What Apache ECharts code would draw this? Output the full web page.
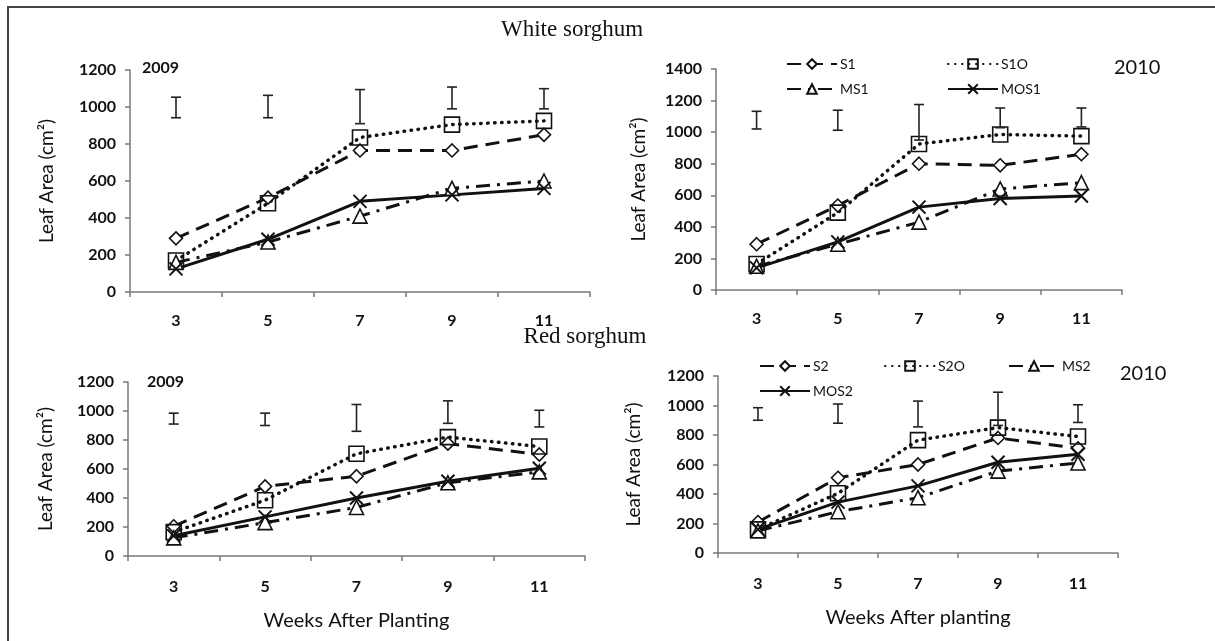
<!DOCTYPE html>
<html>
<head>
<meta charset="utf-8">
<script src="https://cdn.jsdelivr.net/npm/echarts@6/dist/echarts.min.js"></script>
<style>
html,body{margin:0;padding:0;background:#fff;}
#chart{width:1215px;height:641px;}
</style>
</head>
<body>
<div id="chart"></div>
<script>
// ---------- data ----------
const categories = ['3', '5', '7', '9', '11'];
const yTicksTop1 = [0, 1200, 200];   // min, max, interval (White 2009)
const yTicksTop2 = [0, 1400, 200];   // White 2010
const yTicksBot = [0, 1200, 200];    // Red sorghum

// White sorghum 2009
const w09_S1 = [290, 510, 765, 765, 850];
const w09_S1O = [170, 480, 835, 905, 925];
const w09_MS1 = [160, 270, 410, 560, 600];
const w09_MOS1 = [125, 285, 490, 525, 560];
const w09_errLow = [942, 942, 910, 990, 990];
const w09_errHigh = [1053, 1063, 1094, 1108, 1099];

// White sorghum 2010
const w10_S1 = [290, 535, 800, 790, 860];
const w10_S1O = [165, 490, 925, 985, 975];
const w10_MS1 = [150, 290, 430, 640, 680];
const w10_MOS1 = [140, 305, 525, 580, 595];
const w10_errLow = [1020, 1012, 950, 1028, 1033];
const w10_errHigh = [1132, 1139, 1175, 1153, 1153];

// Red sorghum 2009
const r09_S2 = [205, 480, 550, 775, 700];
const r09_S2O = [165, 385, 705, 820, 755];
const r09_MS2 = [125, 230, 335, 505, 580];
const r09_MOS2 = [140, 270, 400, 515, 605];
const r09_errLow = [910, 900, 860, 915, 890];
const r09_errHigh = [985, 985, 1045, 1070, 1005];

// Red sorghum 2010
const r10_S2 = [210, 510, 600, 780, 710];
const r10_S2O = [160, 405, 765, 850, 790];
const r10_MS2 = [150, 280, 375, 555, 610];
const r10_MOS2 = [160, 345, 455, 615, 670];
const r10_errLow = [900, 880, 855, 865, 885];
const r10_errHigh = [985, 1010, 1030, 1090, 1005];

// ---------- styles ----------
const INK = '#111';
const AX = '#7a7a7a';
const SANS = 'Lato';
const XSYM = 'path://M0 0L10 10M10 0L0 10';

const roles = {
  S:   { symbol: 'diamond',  size: 13, line: [14, 8],        fill: '#fff' },
  SO:  { symbol: 'rect',     size: 15, line: [0.5, 6.5],     fill: 'transparent' },
  MS:  { symbol: 'triangle', size: 14, line: [14, 7, 3, 7],  fill: '#fff' },
  MOS: { symbol: XSYM,       size: 13, line: 'solid',        fill: 'transparent' }
};

function lineSeries(name, role, data, gi) {
  const r = roles[role];
  return {
    type: 'line', name: name, data: data,
    xAxisIndex: gi, yAxisIndex: gi,
    symbol: r.symbol, symbolSize: r.size, showAllSymbol: true,
    lineStyle: { color: INK, width: role === 'SO' ? 3.5 : 3, type: r.line, cap: role === 'SO' ? 'round' : 'butt' },
    itemStyle: { color: r.fill, borderColor: INK, borderWidth: role === 'MOS' ? 2 : 1.6 },
    emphasis: { disabled: true },
    animation: false, clip: false, z: 3
  };
}

function errSeries(lo, hi, gi) {
  return {
    type: 'custom', name: 'err' + gi,
    xAxisIndex: gi, yAxisIndex: gi,
    data: categories.map((c, i) => [i, lo[i], hi[i]]),
    encode: { x: 0, y: [1, 2] },
    renderItem: function (params, api) {
      const x = api.value(0);
      const a = api.coord([x, api.value(1)]);
      const b = api.coord([x, api.value(2)]);
      const w = 5;
      const st = { stroke: '#222', lineWidth: 1.6 };
      return {
        type: 'group',
        children: [
          { type: 'line', shape: { x1: a[0], y1: a[1], x2: b[0], y2: b[1] }, style: st },
          { type: 'line', shape: { x1: a[0] - w, y1: a[1], x2: a[0] + w, y2: a[1] }, style: st },
          { type: 'line', shape: { x1: b[0] - w, y1: b[1], x2: b[0] + w, y2: b[1] }, style: st }
        ]
      };
    },
    animation: false, z: 4, silent: true
  };
}

const grids = [
  { left: 130, top: 70, width: 460, height: 222 },
  { left: 716, top: 69, width: 406, height: 221 },
  { left: 128, top: 382, width: 457, height: 174 },
  { left: 718, top: 376, width: 400, height: 177 }
];
const yRanges = [yTicksTop1, yTicksTop2, yTicksBot, yTicksBot];
const yNameGaps = [74, 68, 73, 75];
const xNames = ['', '', 'Weeks After Planting', 'Weeks After planting'];

const xAxes = grids.map((g, i) => ({
  type: 'category', gridIndex: i, data: categories,
  boundaryGap: true,
  axisLine: { show: true, lineStyle: { color: AX, width: 1.5 } },
  axisTick: { show: true, length: 5, lineStyle: { color: AX, width: 1.5 } },
  axisLabel: { color: INK, fontFamily: SANS, fontSize: 16, fontWeight: 'bold', margin: i < 2 ? 21 : 23 },
  name: xNames[i], nameLocation: 'middle', nameGap: 55,
  nameTextStyle: { color: INK, fontFamily: SANS, fontSize: 20 },
  splitLine: { show: false }
}));

const yAxes = grids.map((g, i) => ({
  type: 'value', gridIndex: i,
  min: yRanges[i][0], max: yRanges[i][1], interval: yRanges[i][2],
  axisLine: { show: true, lineStyle: { color: AX, width: 1.5 } },
  axisTick: { show: true, length: 5, lineStyle: { color: AX, width: 1.5 } },
  axisLabel: { color: INK, fontFamily: SANS, fontSize: 16, fontWeight: 'bold', margin: 14,
               formatter: function (v) { return String(v); } },
  splitLine: { show: false },
  name: 'Leaf Area (cm²)', nameLocation: 'middle', nameGap: yNameGaps[i], nameRotate: 90,
  nameTextStyle: { color: INK, fontFamily: SANS, fontSize: 19 }
}));

const series = [
  lineSeries('S1', 'S', w09_S1, 0),
  lineSeries('S1O', 'SO', w09_S1O, 0),
  lineSeries('MS1', 'MS', w09_MS1, 0),
  lineSeries('MOS1', 'MOS', w09_MOS1, 0),
  errSeries(w09_errLow, w09_errHigh, 0),
  lineSeries('S1', 'S', w10_S1, 1),
  lineSeries('S1O', 'SO', w10_S1O, 1),
  lineSeries('MS1', 'MS', w10_MS1, 1),
  lineSeries('MOS1', 'MOS', w10_MOS1, 1),
  errSeries(w10_errLow, w10_errHigh, 1),
  lineSeries('S2', 'S', r09_S2, 2),
  lineSeries('S2O', 'SO', r09_S2O, 2),
  lineSeries('MS2', 'MS', r09_MS2, 2),
  lineSeries('MOS2', 'MOS', r09_MOS2, 2),
  errSeries(r09_errLow, r09_errHigh, 2),
  lineSeries('S2', 'S', r10_S2, 3),
  lineSeries('S2O', 'SO', r10_S2O, 3),
  lineSeries('MS2', 'MS', r10_MS2, 3),
  lineSeries('MOS2', 'MOS', r10_MOS2, 3),
  errSeries(r10_errLow, r10_errHigh, 3)
];

function leg(name, left, cy) {
  return {
    data: [name], left: left, top: cy - 6, padding: 0,
    itemWidth: 50, itemHeight: 12, itemGap: 0,
    selectedMode: false,
    textStyle: { color: INK, fontFamily: SANS, fontSize: 14, padding: [0, 0, 0, -2] }
  };
}

const legends = [
  leg('S1', 786, 63), leg('S1O', 947, 63),
  leg('MS1', 786, 88), leg('MOS1', 947, 88),
  leg('S2', 759, 365), leg('S2O', 884, 365), leg('MS2', 1008, 365),
  leg('MOS2', 759, 390)
];

const titles = [
  { text: 'White sorghum', left: 572, top: 30, textAlign: 'center', textVerticalAlign: 'middle',
    textStyle: { fontFamily: 'Liberation Serif', fontSize: 23, fontWeight: 'normal', color: INK }, padding: 0 },
  { text: 'Red sorghum', left: 585, top: 337, textAlign: 'center', textVerticalAlign: 'middle',
    textStyle: { fontFamily: 'Liberation Serif', fontSize: 23, fontWeight: 'normal', color: INK }, padding: 0 },
  { text: '2009', left: 142, top: 60, padding: 0,
    textStyle: { fontFamily: SANS, fontSize: 16, fontWeight: 'bold', color: INK } },
  { text: '2009', left: 147, top: 374, padding: 0,
    textStyle: { fontFamily: SANS, fontSize: 16, fontWeight: 'bold', color: INK } },
  { text: '2010', left: 1114, top: 58, padding: 0,
    textStyle: { fontFamily: SANS, fontSize: 20, fontWeight: 'normal', color: INK } },
  { text: '2010', left: 1120, top: 364, padding: 0,
    textStyle: { fontFamily: SANS, fontSize: 20, fontWeight: 'normal', color: INK } }
];

const chart = echarts.init(document.getElementById('chart'), null, { renderer: 'canvas' });
chart.setOption({
  backgroundColor: '#fff',
  animation: false,
  title: titles,
  legend: legends,
  grid: grids,
  xAxis: xAxes,
  yAxis: yAxes,
  series: series,
  graphic: [
    { type: 'rect', shape: { x: 8, y: 7, width: 1400, height: 800 },
      style: { fill: 'none', stroke: '#444', lineWidth: 2 }, silent: true, z: 0 }
  ]
});
</script>
</body>
</html>
